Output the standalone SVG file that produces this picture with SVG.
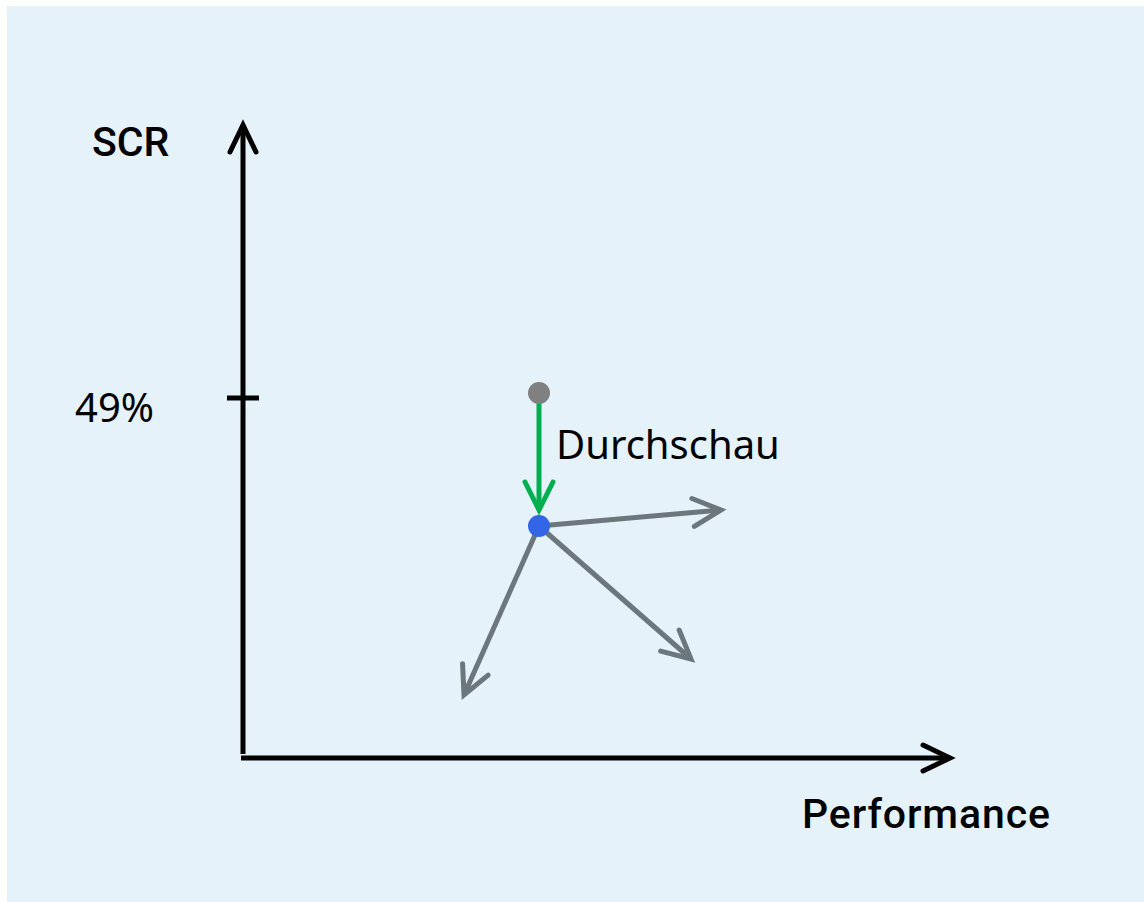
<svg xmlns="http://www.w3.org/2000/svg" width="1144" height="902" viewBox="0 0 1144 902">
  <style>
    .axis { stroke: #000; stroke-width: 5; fill: none; }
    .ah { fill: none; stroke-linecap: round; stroke-linejoin: miter; }
    .grey { stroke: #6b777d; stroke-width: 5; fill: none; }
    .green { stroke: #00b050; stroke-width: 5; fill: none; }
    .lbl { font-family: Roboto, "Liberation Sans", sans-serif; font-size: 41px; font-weight: 500; fill: #000; }
    .lbl2 { font-family: "Noto Sans", "Open Sans", sans-serif; font-size: 40px; fill: #000; }
  </style>
  <defs>
    <marker id="ahBlack" markerUnits="userSpaceOnUse" markerWidth="40" markerHeight="40" refX="0" refY="0" orient="auto" overflow="visible" viewBox="-35 -20 40 40">
      <path class="ah" d="M-27,-13 L0,0 L-27,13" stroke="#000" stroke-width="5"/>
    </marker>
    <marker id="ahGrey" markerUnits="userSpaceOnUse" markerWidth="40" markerHeight="40" refX="0" refY="0" orient="auto" overflow="visible" viewBox="-35 -20 40 40">
      <path class="ah" d="M-28,-14 L0,0 L-28,14" stroke="#6b777d" stroke-width="5"/>
    </marker>
    <marker id="ahGreen" markerUnits="userSpaceOnUse" markerWidth="40" markerHeight="40" refX="0" refY="0" orient="auto" overflow="visible" viewBox="-35 -20 40 40">
      <path class="ah" d="M-28,-14 L0,0 L-28,14" stroke="#00b050" stroke-width="5"/>
    </marker>
  </defs>
  <rect x="7" y="6" width="1137" height="896" fill="#e5f2f9"/>
  <g id="connectors">
    <line class="axis" x1="243" y1="754" x2="243" y2="125" marker-end="url(#ahBlack)"/>
    <line class="axis" x1="241" y1="758" x2="950" y2="758" marker-end="url(#ahBlack)"/>
    <line class="axis" x1="227" y1="398" x2="259" y2="398" stroke-width="4"/>
    <line class="green" x1="539" y1="402" x2="539" y2="510" marker-end="url(#ahGreen)"/>
    <line class="grey" x1="539" y1="526" x2="721" y2="510" marker-end="url(#ahGrey)"/>
    <line class="grey" x1="539" y1="526" x2="691" y2="659" marker-end="url(#ahGrey)"/>
    <line class="grey" x1="539" y1="526" x2="464" y2="695" marker-end="url(#ahGrey)"/>
  </g>
  <g id="node-start">
    <circle cx="539" cy="393" r="11" fill="#808080"/>
  </g>
  <g id="node-end">
    <circle cx="539" cy="526" r="11" fill="#3366e6"/>
  </g>
  <g id="label-scr">
    <text class="lbl" x="92" y="156">SCR</text>
  </g>
  <g id="label-performance">
    <text class="lbl" x="802" y="828" font-size="42.5" textLength="248" lengthAdjust="spacing">Performance</text>
  </g>
  <g id="label-49">
    <text class="lbl2" x="75" y="422">49%</text>
  </g>
  <g id="label-durchschau">
    <text class="lbl2" x="556" y="459">Durchschau</text>
  </g>
</svg>
